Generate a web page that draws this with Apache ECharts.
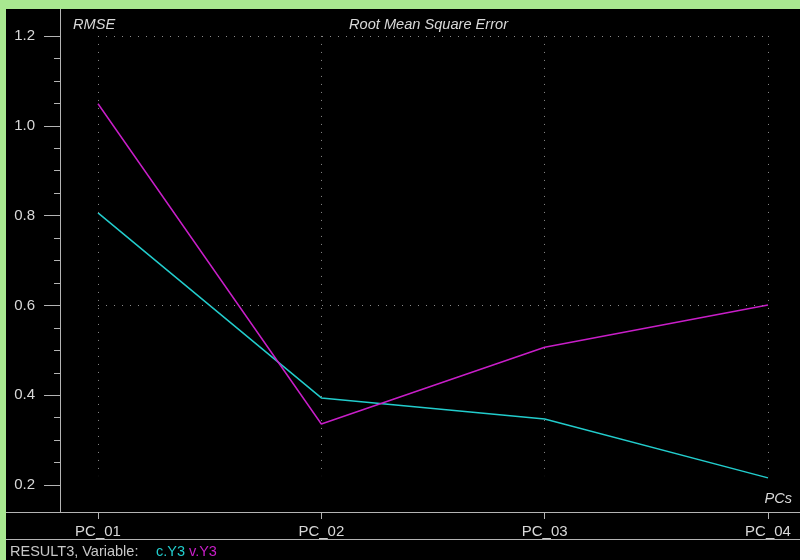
<!DOCTYPE html>
<html>
<head>
<meta charset="utf-8">
<script src="https://cdn.jsdelivr.net/npm/echarts@6/dist/echarts.min.js"></script>
<style>
  html, body { margin: 0; padding: 0; background: #a8e890; width: 800px; height: 560px; overflow: hidden; }
  #chart { position: absolute; left: 6px; top: 9px; width: 794px; height: 551px; background: #000; }
</style>
</head>
<body>
<div id="chart"></div>
<script>
// Principal components on the x axis
const categories = ['PC_01', 'PC_02', 'PC_03', 'PC_04'];
// RMSE per number of components
const cY3 = [0.806, 0.394, 0.347, 0.216];
const vY3 = [1.049, 0.336, 0.507, 0.601];
// Labelled y ticks and the small ticks between them
const majorTicks = [0.2, 0.4, 0.6, 0.8, 1.0, 1.2];
const minorTicks = [0.25, 0.3, 0.35, 0.45, 0.5, 0.55, 0.65, 0.7, 0.75, 0.85, 0.9, 0.95, 1.05, 1.1, 1.15];
// Dotted reference lines
const gridLevels = [1.2, 0.6];

const seriesNames = ['c.Y3', 'v.Y3'];
const seriesColors = ['#22cccc', '#c81ec8'];
const textColor = '#d8d8d8';
const axisColor = '#b4b4b4';
const font = 'Liberation Sans, Arial, sans-serif';

const chart = echarts.init(document.getElementById('chart'));

const dotted = { color: '#8a8a8a', width: 1, type: [1, 7] };
const refLines = [];
gridLevels.forEach(v => refLines.push([{ coord: [0, v] }, { coord: [categories.length - 1, v] }]));
categories.forEach((c, i) => refLines.push([{ coord: [i, 1.2] }, { coord: [i, 0.22] }]));

const italic = { color: textColor, fontSize: 14.6, fontStyle: 'italic', fontWeight: 'normal', fontFamily: font };
const plain = (color) => ({ color: color, fontSize: 14.5, fontWeight: 'normal', fontFamily: font });

chart.setOption({
  animation: false,
  textStyle: { fontFamily: font },
  title: [
    { text: 'Root Mean Square Error', left: 343, top: 8, padding: 0, textStyle: italic },
    { text: 'RMSE', left: 67, top: 8, padding: 0, textStyle: italic },
    { text: 'PCs', right: 8, top: 482, padding: 0, textStyle: italic },
    { text: 'RESULT3, Variable:', left: 4, top: 535, padding: 0, textStyle: plain('#c8c8c8') },
    { text: seriesNames[0], left: 150, top: 535, padding: 0, textStyle: plain(seriesColors[0]) },
    { text: seriesNames[1], left: 183, top: 535, padding: 0, textStyle: plain(seriesColors[1]) }
  ],
  grid: { left: 92, right: 32, top: 0, bottom: 48 },
  xAxis: {
    type: 'category',
    data: categories,
    boundaryGap: false,
    axisLine: { show: false },
    axisTick: { show: true, length: 7, alignWithLabel: true, lineStyle: { color: axisColor } },
    axisLabel: { color: textColor, fontSize: 15, margin: 12, fontFamily: font },
    splitLine: { show: false }
  },
  yAxis: [
    {
      type: 'value', min: 0.14, max: 1.26, offset: 38,
      axisLine: { show: true, lineStyle: { color: axisColor, width: 1 } },
      axisTick: { show: true, length: 16, customValues: majorTicks, lineStyle: { color: axisColor } },
      axisLabel: { color: textColor, fontSize: 15, margin: 25, customValues: majorTicks, fontFamily: font,
        formatter: v => v.toFixed(1) },
      splitLine: { show: false }
    },
    {
      type: 'value', min: 0.14, max: 1.26, offset: 38, position: 'left',
      axisLine: { show: false },
      axisTick: { show: true, length: 6, customValues: minorTicks, lineStyle: { color: axisColor } },
      axisLabel: { show: false },
      splitLine: { show: false }
    }
  ],
  graphic: [
    { type: 'line', shape: { x1: 0, y1: 503.5, x2: 794, y2: 503.5 }, style: { stroke: axisColor, lineWidth: 1 } },
    { type: 'line', shape: { x1: 0, y1: 530.5, x2: 794, y2: 530.5 }, style: { stroke: axisColor, lineWidth: 1 } }
  ],
  series: [
    {
      name: seriesNames[0], type: 'line', data: cY3, symbol: 'none',
      lineStyle: { color: seriesColors[0], width: 1.5 },
      markLine: { silent: true, symbol: 'none', label: { show: false }, lineStyle: dotted, data: refLines },
      z: 3
    },
    {
      name: seriesNames[1], type: 'line', data: vY3, symbol: 'none',
      lineStyle: { color: seriesColors[1], width: 1.5 },
      z: 4
    }
  ]
});
</script>
</body>
</html>
